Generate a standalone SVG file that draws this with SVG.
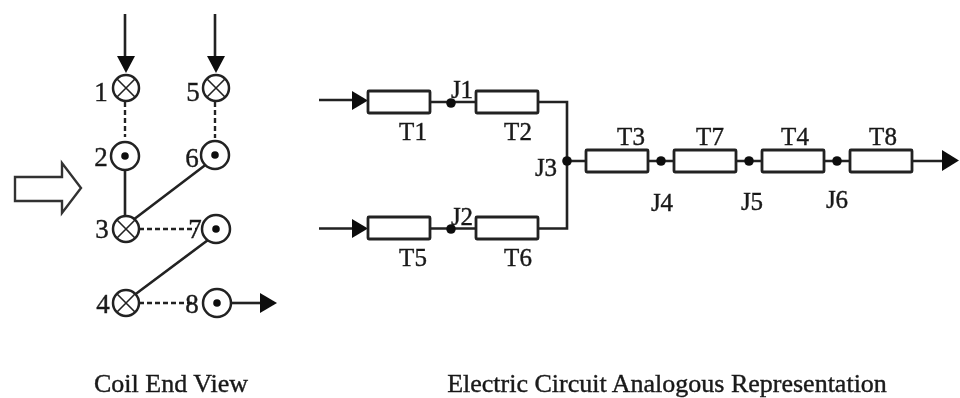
<svg xmlns="http://www.w3.org/2000/svg" width="960" height="398" viewBox="0 0 960 398">
<defs>
<filter id="b" x="-5%" y="-5%" width="110%" height="110%"><feGaussianBlur stdDeviation="0.7"/></filter>
<g id="cross"><circle r="13" class="c"/><path d="M-9.200-9.200L9.200 9.200M-9.200 9.200L9.200-9.200" class="l1"/></g>
<g id="dot"><circle r="14" class="c"/><circle r="3.800" fill="#111"/></g>
</defs>
<style>
.c{fill:#fff;stroke:#222;stroke-width:2.5}
.l{fill:none;stroke:#222;stroke-width:2.6}
.l1{fill:none;stroke:#222;stroke-width:1.6}
.d{fill:none;stroke:#222;stroke-width:2.4;stroke-dasharray:5 3}
.a{fill:#111;stroke:none}
.r{fill:#fff;stroke:#222;stroke-width:2.800}
.j{fill:#111}
text{font-family:"Liberation Serif","Times New Roman",serif;fill:#1a1a1a;stroke:#1a1a1a;stroke-width:.4}
.n{font-size:27px;text-anchor:middle}
.t{font-size:25px;text-anchor:middle}
.cap{font-size:26px;text-anchor:middle}
</style>
<rect width="960" height="398" fill="#fff"/>
<g filter="url(#b)">
<g id="connectors">
<path class="l" d="M125 14V60M215 14V60"/>
<path class="a" d="M117 56H135L126 73ZM207 56H225L216 73Z"/>
<path class="d" d="M125 102V137M215 102V138"/>
<path class="l" d="M125 170V216M133 220L208 163M133 296L208 240"/>
<path class="d" d="M139 229H197M139 303H195"/>
<path class="l" d="M230 303H262"/>
<path class="a" d="M260 293L277 303L260 313Z"/>
<path class="l" d="M319 100H356M431 102H475M538 102H567V228.500H538M319 228.500H356M431 228.500H475M567 161H586M648 161H673M736 161H761M825 161H849M912 161H945"/>
<path class="a" d="M352 91L368 100.500L352 110ZM352 219L368 228.500L352 238ZM942 150L959 160.500L942 171Z"/>
</g>
<g id="arrow-block"><path d="M15 177H62V163L81 188L62 213V201H15Z" fill="#fff" stroke="#333" stroke-width="2.4"/></g>
<g id="coil-1"><use href="#cross" x="126" y="88"/><text class="n" x="101" y="101">1</text></g>
<g id="coil-2"><use href="#dot" x="125" y="156"/><text class="n" x="101" y="166">2</text></g>
<g id="coil-3"><use href="#cross" x="126" y="229"/><text class="n" x="102" y="238">3</text></g>
<g id="coil-4"><use href="#cross" x="126" y="303"/><text class="n" x="103" y="313">4</text></g>
<g id="coil-5"><use href="#cross" x="216" y="88"/><text class="n" x="193" y="101">5</text></g>
<g id="coil-6"><use href="#dot" x="215" y="155"/><text class="n" x="192" y="167">6</text></g>
<g id="coil-7"><use href="#dot" x="216" y="229"/><text class="n" x="195" y="238">7</text></g>
<g id="coil-8"><use href="#dot" x="217" y="303"/><text class="n" x="192" y="313">8</text></g>
<g id="T1"><rect class="r" x="368" y="91" width="62" height="22" rx="1"/><text class="t" x="413" y="140">T1</text></g>
<g id="T2"><rect class="r" x="476" y="91" width="62" height="22" rx="1"/><text class="t" x="518" y="140">T2</text></g>
<g id="T5"><rect class="r" x="368" y="217" width="62" height="22" rx="1"/><text class="t" x="413" y="266">T5</text></g>
<g id="T6"><rect class="r" x="476" y="217" width="62" height="22" rx="1"/><text class="t" x="518" y="266">T6</text></g>
<g id="T3"><rect class="r" x="586" y="150" width="62" height="22" rx="1"/><text class="t" x="631" y="145">T3</text></g>
<g id="T7"><rect class="r" x="674" y="150" width="62" height="22" rx="1"/><text class="t" x="710" y="145">T7</text></g>
<g id="T4"><rect class="r" x="762" y="150" width="62" height="22" rx="1"/><text class="t" x="795" y="145">T4</text></g>
<g id="T8"><rect class="r" x="850" y="150" width="62" height="22" rx="1"/><text class="t" x="883" y="145">T8</text></g>
<g id="J1"><circle class="j" cx="451" cy="103" r="4.800"/><text class="t" x="462" y="98">J1</text></g>
<g id="J2"><circle class="j" cx="451" cy="229" r="4.800"/><text class="t" x="462" y="225">J2</text></g>
<g id="J3"><circle class="j" cx="567" cy="161" r="4.800"/><text class="t" x="546" y="176">J3</text></g>
<g id="J4"><circle class="j" cx="661" cy="161" r="4.800"/><text class="t" x="662" y="211">J4</text></g>
<g id="J5"><circle class="j" cx="749" cy="161" r="4.800"/><text class="t" x="752" y="210">J5</text></g>
<g id="J6"><circle class="j" cx="837" cy="161" r="4.800"/><text class="t" x="837" y="208">J6</text></g>
<text class="cap" x="171" y="392">Coil End View</text>
<text class="cap" x="667" y="392">Electric Circuit Analogous Representation</text>
</g>
</svg>
